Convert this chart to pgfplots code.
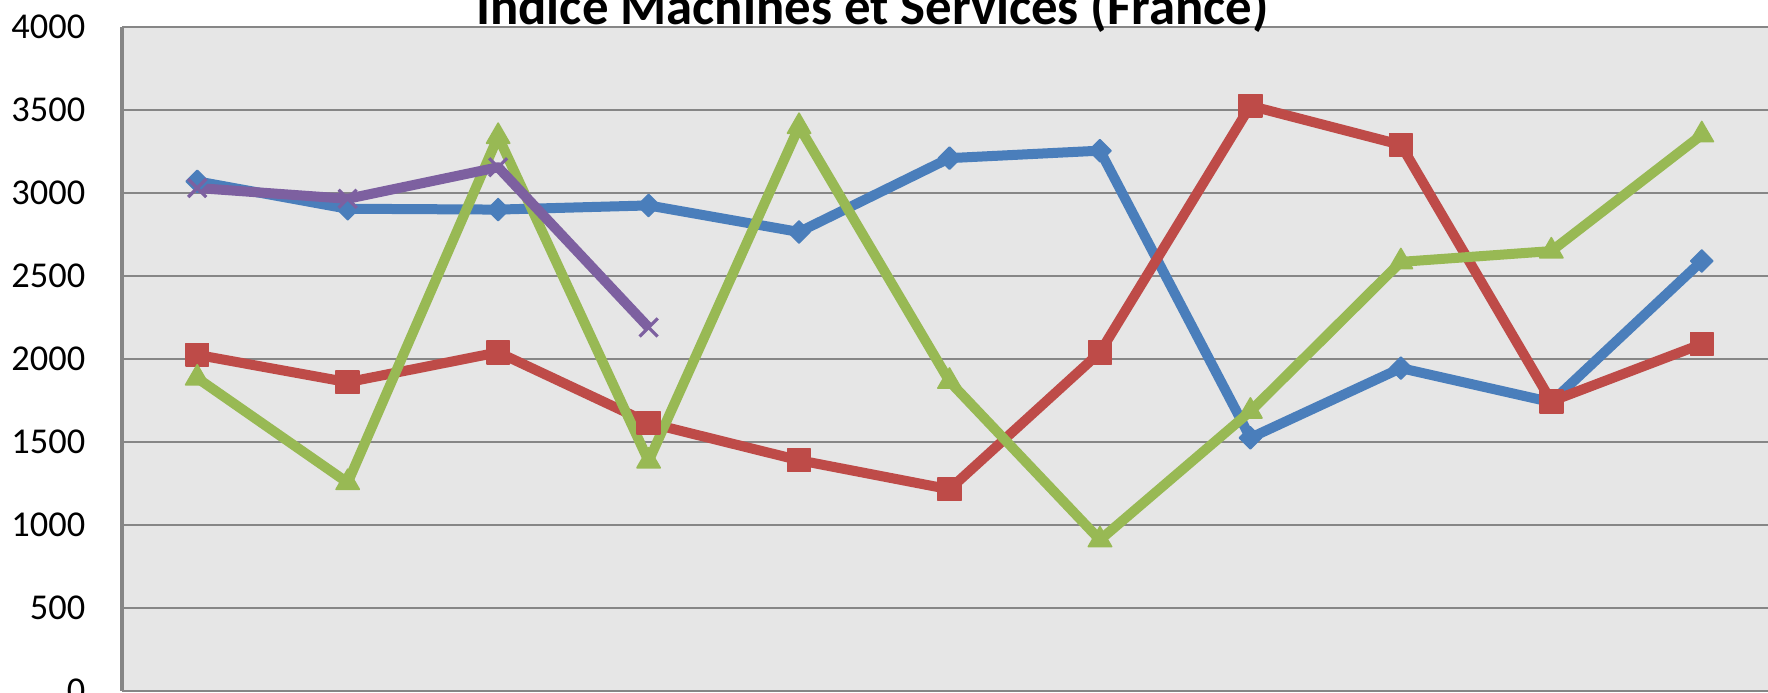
\documentclass[border=0pt]{standalone}
\usepackage{fontspec}
\setmainfont{Carlito}
\usepackage{pgfplots}
\pgfplotsset{compat=1.18}
\definecolor{sblue}{HTML}{4A7EBB}
\definecolor{sred}{HTML}{BE4B48}
\definecolor{sgreen}{HTML}{98B954}
\definecolor{spurple}{HTML}{7D60A0}
\definecolor{plotbg}{HTML}{E6E6E6}
\definecolor{gridc}{HTML}{868686}
\begin{document}
\begin{tikzpicture}
\path[use as bounding box, clip] (0pt,0pt) rectangle (442pt,173.25pt);
\begin{axis}[
  at={(30.5pt,0.5pt)}, anchor=south west,
  scale only axis, width=413.75pt, height=166pt,
  xmin=-0.5, xmax=10.5, ymin=0, ymax=4000,
  axis background/.style={fill=plotbg},
  axis line style={draw=none},
  xtick=\empty,
  ytick={0,500,...,4000},
  major tick length=0pt,
  ymajorgrids, grid style={gridc, line width=0.65pt},
  /pgf/number format/assume math mode=true,
  /pgf/number format/1000 sep={},
  yticklabel style={font=\fontsize{9.1}{10}\selectfont, inner sep=0pt, xshift=-9pt},
  clip=false,
]
\draw[gridc, line width=0.8pt] (rel axis cs:0,0) -- (rel axis cs:0,1);
\addplot[sblue, line width=2.5pt, line join=round, mark=square*, mark size=1.95pt, mark options={rotate=45, solid, line width=0.4pt}]
  coordinates {(0,3070) (1,2905) (2,2900) (3,2925) (4,2765) (5,3210) (6,3255) (7,1525) (8,1945) (9,1740) (10,2590)};
\addplot[sred, line width=2.5pt, line join=round, mark=square*, mark size=2.85pt, mark options={solid, line width=0.4pt}]
  coordinates {(0,2025) (1,1860) (2,2040) (3,1615) (4,1390) (5,1215) (6,2040) (7,3525) (8,3290) (9,1745) (10,2090)};
\addplot[sgreen, line width=2.5pt, line join=round, mark=triangle*, mark size=3.35pt, mark options={solid, line width=0.4pt}]
  coordinates {(0,1885) (1,1255) (2,3340) (3,1385) (4,3400) (5,1865) (6,910) (7,1685) (8,2585) (9,2650) (10,3350)};
\addplot[spurple, line width=2.5pt, line join=round, mark=x, mark size=3.2pt, mark options={solid, line width=0.8pt}]
  coordinates {(0,3030) (1,2965) (2,3155) (3,2190)};
\end{axis}
\node[anchor=base, font=\bfseries\fontsize{13.2}{14}\selectfont] at (218.1pt,167pt) {Indice Machines et Services (France)};
\end{tikzpicture}
\end{document}
